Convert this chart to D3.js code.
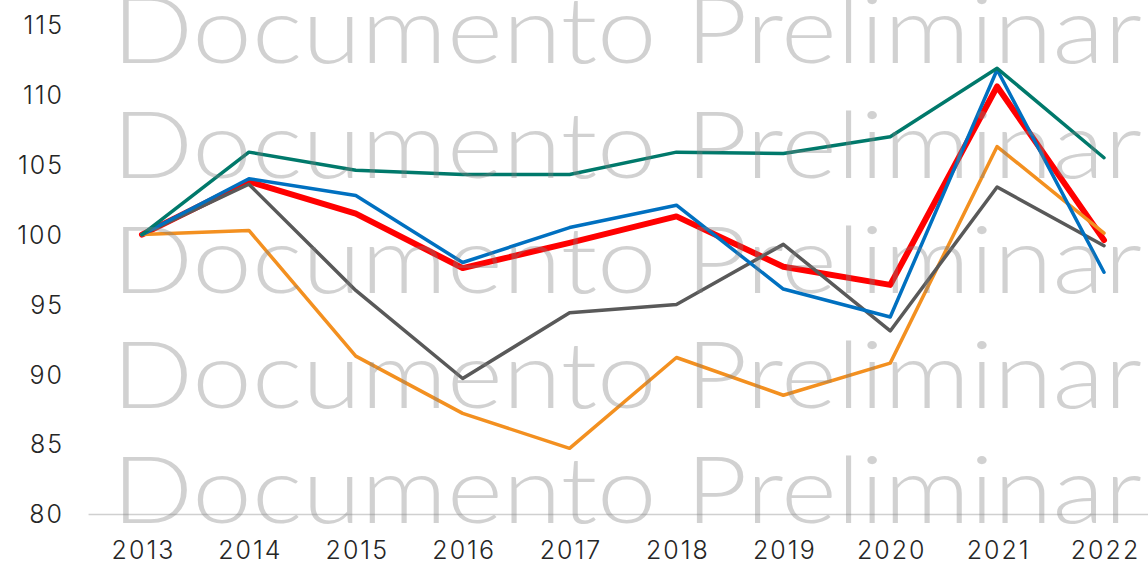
<!DOCTYPE html>
<html>
<head>
<meta charset="utf-8">
<script src="https://cdn.jsdelivr.net/npm/d3@7"></script>
<style>
  body { margin: 0; background: #fff; }
  svg { display: block; }
  .tick text { font-family: Inter, "Open Sans", sans-serif; font-size: 25px; font-weight: 300; fill: #262626; letter-spacing: 2px; }
</style>
</head>
<body>
<div class="chart"></div>
<script>
// chart size
var svgWidth = 1148;
var svgHeight = 564;

// data
var years = ["2013", "2014", "2015", "2016", "2017", "2018", "2019", "2020", "2021", "2022"];
var yTicks = [80, 85, 90, 95, 100, 105, 110, 115];

var tealValues   = [100, 105.9, 104.6, 104.3, 104.3, 105.9, 105.8, 107.0, 111.9, 105.5];
var blueValues   = [100, 104.0, 102.8, 98.0, 100.5, 102.1, 96.1, 94.1, 111.8, 97.3];
var redValues    = [100, 103.8, 101.5, 97.6, 99.4, 101.3, 97.7, 96.4, 110.6, 99.6];
var grayValues   = [100, 103.6, 96.0, 89.7, 94.4, 95.0, 99.3, 93.1, 103.4, 99.2];
var orangeValues = [100, 100.3, 91.3, 87.2, 84.7, 91.2, 88.5, 90.8, 106.3, 100.1];

var watermark = "Documento Preliminar";

// drawing order: red underneath, the rest on top
var series = [
    {values: redValues, color: "#ff0000", width: 6},
    {values: orangeValues, color: "#f39020", width: 3.5},
    {values: grayValues, color: "#595959", width: 3.5},
    {values: blueValues, color: "#0070c0", width: 3.5},
    {values: tealValues, color: "#00796b", width: 3.5}
];

var svg = d3.select(".chart")
    .append("svg")
    .attr("width", svgWidth)
    .attr("height", svgHeight);

var xScale = d3.scalePoint()
    .domain(years)
    .range([142, 1104]);

var yScale = d3.scaleLinear()
    .domain([80, 115])
    .range([514, 25]);

var step = xScale.step();

// y axis labels (no line)
var yAxis = svg.append("g")
    .attr("transform", "translate(64,0)")
    .call(d3.axisLeft(yScale).tickValues(yTicks).tickSize(0).tickPadding(0));
yAxis.select(".domain").remove();
yAxis.selectAll(".tick text").attr("dy", "0.35em");

// x axis labels
var xAxis = svg.append("g")
    .attr("transform", "translate(1,514)")
    .call(d3.axisBottom(xScale).tickSize(0).tickPadding(27));
xAxis.select(".domain").remove();

// baseline
svg.append("line")
    .attr("x1", xScale(years[0]) - step / 2)
    .attr("x2", svgWidth)
    .attr("y1", yScale(80) + 0.5)
    .attr("y2", yScale(80) + 0.5)
    .attr("stroke", "#d0d0d0")
    .attr("stroke-width", 1.3);

// lines
var line = d3.line()
    .x(function(d, i) { return xScale(years[i]); })
    .y(function(d) { return yScale(d); });

svg.selectAll("path.series")
    .data(series)
    .enter()
    .append("path")
    .classed("series", true)
    .attr("d", function(s) { return line(s.values); })
    .attr("fill", "none")
    .attr("stroke", function(s) { return s.color; })
    .attr("stroke-width", function(s) { return s.width; })
    .attr("stroke-linejoin", "round")
    .attr("stroke-linecap", "round");

// watermark rows, drawn over everything
var wmBaselines = [63, 178, 293, 408, 523];
svg.append("g")
    .selectAll("text")
    .data(wmBaselines)
    .enter()
    .append("text")
    .attr("x", 112)
    .attr("y", function(d) { return d; })
    .attr("textLength", 1030)
    .attr("lengthAdjust", "spacingAndGlyphs")
    .style("font-family", "Lato, sans-serif")
    .style("font-weight", 300)
    .style("font-size", "92px")
    .style("fill", "#808080")
    .style("fill-opacity", 0.36)
    .text(watermark);
</script>
</body>
</html>
